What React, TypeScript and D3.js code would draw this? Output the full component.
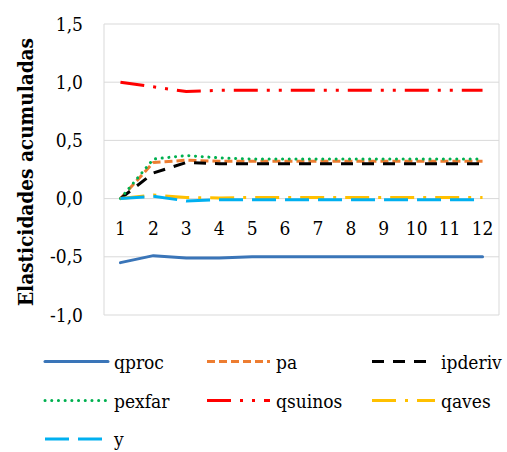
import React from "react";
import * as d3 from "d3";

const periods = ["1", "2", "3", "4", "5", "6", "7", "8", "9", "10", "11", "12"];
const qproc = [-0.55, -0.49, -0.51, -0.51, -0.50, -0.50, -0.50, -0.50, -0.50, -0.50, -0.50, -0.50];
const pa = [0, 0.31, 0.33, 0.32, 0.32, 0.32, 0.32, 0.32, 0.32, 0.32, 0.32, 0.32];
const ipderiv = [0, 0.22, 0.31, 0.30, 0.30, 0.30, 0.30, 0.30, 0.30, 0.30, 0.30, 0.30];
const pexfar = [0, 0.34, 0.37, 0.35, 0.34, 0.34, 0.34, 0.34, 0.34, 0.34, 0.34, 0.34];
const qsuinos = [1.0, 0.96, 0.92, 0.93, 0.93, 0.93, 0.93, 0.93, 0.93, 0.93, 0.93, 0.93];
const qaves = [0, 0.03, 0.01, 0.005, 0.01, 0.01, 0.01, 0.01, 0.01, 0.01, 0.01, 0.01];
const yv = [0, 0.02, -0.02, -0.01, -0.01, -0.01, -0.01, -0.01, -0.01, -0.01, -0.01, -0.01];
const yTicks = [-1.0, -0.5, 0.0, 0.5, 1.0, 1.5];

const series = [
  { name: "qproc", values: qproc, color: "#3A75B8", dash: "", cap: "round" },
  { name: "pa", values: pa, color: "#ED7D31", dash: "8,4", cap: "butt" },
  { name: "ipderiv", values: ipderiv, color: "#000000", dash: "12,9", cap: "butt" },
  { name: "pexfar", values: pexfar, color: "#00B050", dash: "0.1,6.6", cap: "round" },
  { name: "qsuinos", values: qsuinos, color: "#FF0000", dash: "24,9,3,9,3,9", cap: "butt" },
  { name: "qaves", values: qaves, color: "#FFC000", dash: "24,9,3,9", cap: "butt" },
  { name: "y", values: yv, color: "#00B0F0", dash: "24,9", cap: "butt" },
];

export default function App() {
  const W = 507, H = 452;
  const left = 104, right = 499, top = 24, bottom = 315;
  const x = d3.scaleBand<string>().domain(periods).range([left, right]);
  const y = d3.scaleLinear().domain([-1, 1.5]).range([bottom, top]);
  const cx = (p: string) => (x(p) as number) + x.bandwidth() / 2;
  const line = (vals: number[]) =>
    d3.line<number>().x((_, i) => cx(periods[i])).y((v) => y(v))(vals) as string;
  const ts: React.CSSProperties = { fontFamily: "'DejaVu Serif Condensed', 'DejaVu Serif', serif", fontStretch: "condensed" };
  const legendCols = [45, 207, 372];
  const legendRows = [361.5, 400.5, 439];
  return (
    <svg width={W} height={H} style={{ position: "absolute", left: 0, top: 0, background: "#fff" }}>
      <rect x={0} y={0} width={W} height={H} fill="#fff" />
      {yTicks.map((t) => (
        <line key={t} x1={left} x2={right} y1={y(t)} y2={y(t)} stroke="#D9D9D9" strokeWidth={1} />
      ))}
      <line x1={left} x2={left} y1={top} y2={bottom} stroke="#D9D9D9" />
      <line x1={right} x2={right} y1={top} y2={bottom} stroke="#D9D9D9" />
      {yTicks.map((t) => (
        <text key={t} x={83} y={y(t)} dy="0.35em" textAnchor="end" fontSize={19} fill="#000" style={ts}>
          {d3.format(".1f")(t).replace(".", ",").replace("−", "-")}
        </text>
      ))}
      {periods.map((p) => (
        <text key={p} x={cx(p)} y={235} textAnchor="middle" fontSize={19} fill="#000" style={ts}>{p}</text>
      ))}
      <text transform={`translate(33,172) rotate(-90)`} textAnchor="middle" fontSize={21} fontWeight="bold" fill="#000" style={ts}
        textLength={268} lengthAdjust="spacingAndGlyphs">
        Elasticidades acumuladas
      </text>
      {series.map((s) => (
        <path key={s.name} d={line(s.values)} fill="none" stroke={s.color} strokeWidth={3}
          strokeDasharray={s.dash || undefined} strokeLinecap={s.cap as any} strokeLinejoin="round" />
      ))}
      {series.map((s, i) => {
        const col = legendCols[i % 3];
        const row = legendRows[Math.floor(i / 3)];
        return (
          <g key={s.name}>
            <line x1={col} x2={col + 63} y1={row} y2={row} stroke={s.color} strokeWidth={3}
              strokeDasharray={s.dash || undefined} strokeLinecap={s.cap as any} />
            <text x={col + 69} y={row + 7} fontSize={19} fill="#000" style={ts}>{s.name}</text>
          </g>
        );
      })}
    </svg>
  );
}
